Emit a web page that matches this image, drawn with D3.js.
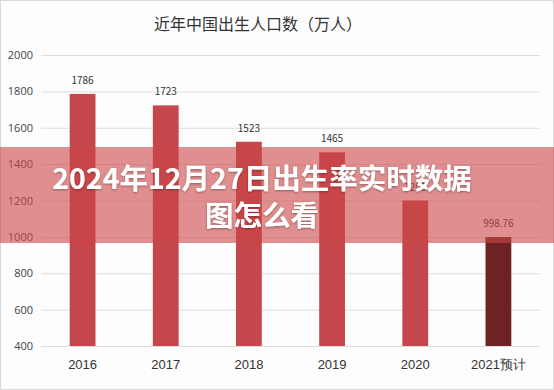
<!DOCTYPE html>
<html>
<head>
<meta charset="utf-8">
<script src="https://cdn.jsdelivr.net/npm/d3@7"></script>
<style>
  html, body { margin: 0; padding: 0; background: #fff; }
  svg { display: block; font-family: "Noto Sans CJK SC", "Noto Sans", sans-serif; }
</style>
</head>
<body>
<div id="chart"></div>
<script>
const years = ['2016', '2017', '2018', '2019', '2020', '2021预计']
const births = [1786, 1723, 1523, 1465, 1200, 998.76]
const barLabels = ['1786', '1723', '1523', '1465', '1200', '998.76']
const yTicks = [400, 600, 800, 1000, 1200, 1400, 1600, 1800, 2000]
const chartTitle = '近年中国出生人口数（万人）'
const overlayLines = ['2024年12月27日出生率实时数据', '图怎么看']

const width = 554
const height = 390
const margin = { top: 55, right: 14, bottom: 44, left: 41 }

const svg = d3
  .select('#chart')
  .append('svg')
  .attr('width', width)
  .attr('height', height)

// frame of the screenshot
svg
  .append('rect')
  .attr('x', 0.5)
  .attr('y', 0.5)
  .attr('width', width - 1)
  .attr('height', height - 1)
  .attr('fill', '#fdfdfd')
  .attr('stroke', '#d8d8d8')

const x = d3
  .scaleBand()
  .domain(years)
  .range([margin.left, width - margin.right])
  .paddingInner(0.69)
  .paddingOuter(0.345)

const y = d3
  .scaleLinear()
  .domain([400, 2000])
  .range([height - margin.bottom, margin.top])

svg
  .append('text')
  .attr('x', 258)
  .attr('y', 30)
  .attr('text-anchor', 'middle')
  .attr('font-size', '16px')
  .attr('fill', '#333')
  .text(chartTitle)

// gridlines + y labels
const yAxis = svg
  .append('g')
  .attr('transform', `translate(${margin.left},0)`)
  .call(
    d3
      .axisLeft(y)
      .tickValues(yTicks)
      .tickFormat(d3.format('d'))
      .tickSize(-(width - margin.left - margin.right))
      .tickPadding(8),
  )
yAxis.select('.domain').remove()
yAxis.selectAll('line').attr('stroke', '#ddd')
yAxis
  .selectAll('text')
  .attr('fill', '#444')
  .attr('font-size', '11px')
  .attr('font-family', '"Open Sans", sans-serif')

svg
  .selectAll('rect.bar')
  .data(births)
  .join('rect')
  .attr('class', 'bar')
  .attr('x', (d, i) => x(years[i]))
  .attr('y', d => y(d))
  .attr('width', x.bandwidth())
  .attr('height', d => y(400) - y(d))
  .attr('fill', (d, i) => (i === years.length - 1 ? '#6e2223' : '#c5474b'))

svg
  .selectAll('text.val')
  .data(births)
  .join('text')
  .attr('class', 'val')
  .attr('x', (d, i) => x(years[i]) + x.bandwidth() / 2)
  .attr('y', d => y(d) - 10)
  .attr('text-anchor', 'middle')
  .attr('font-size', '10px')
  .attr('fill', '#333')
  .text((d, i) => barLabels[i])

// x labels
const xAxis = svg
  .append('g')
  .attr('transform', `translate(0,${height - margin.bottom})`)
  .call(d3.axisBottom(x).tickSize(0).tickPadding(14))
xAxis.select('.domain').remove()
xAxis
  .selectAll('text')
  .attr('fill', '#333')
  .attr('font-size', '13px')

// translucent banner with headline
svg
  .append('rect')
  .attr('x', 0)
  .attr('y', 147)
  .attr('width', width)
  .attr('height', 96)
  .attr('fill', 'rgb(204, 70, 70)')
  .attr('fill-opacity', 0.6)

const shadow = svg.append('defs').append('filter').attr('id', 'shadow')
shadow
  .append('feDropShadow')
  .attr('dx', 0)
  .attr('dy', 1)
  .attr('stdDeviation', 1.2)
  .attr('flood-color', '#000')
  .attr('flood-opacity', 0.35)

svg
  .selectAll('text.headline')
  .data(overlayLines)
  .join('text')
  .attr('class', 'headline')
  .attr('x', 262)
  .attr('y', (d, i) => 189 + i * 37)
  .attr('text-anchor', 'middle')
  .attr('font-size', '28.5px')
  .attr('font-weight', 'bold')
  .attr('fill', '#fff')
  .attr('filter', 'url(#shadow)')
  .text(d => d)
</script>
</body>
</html>
